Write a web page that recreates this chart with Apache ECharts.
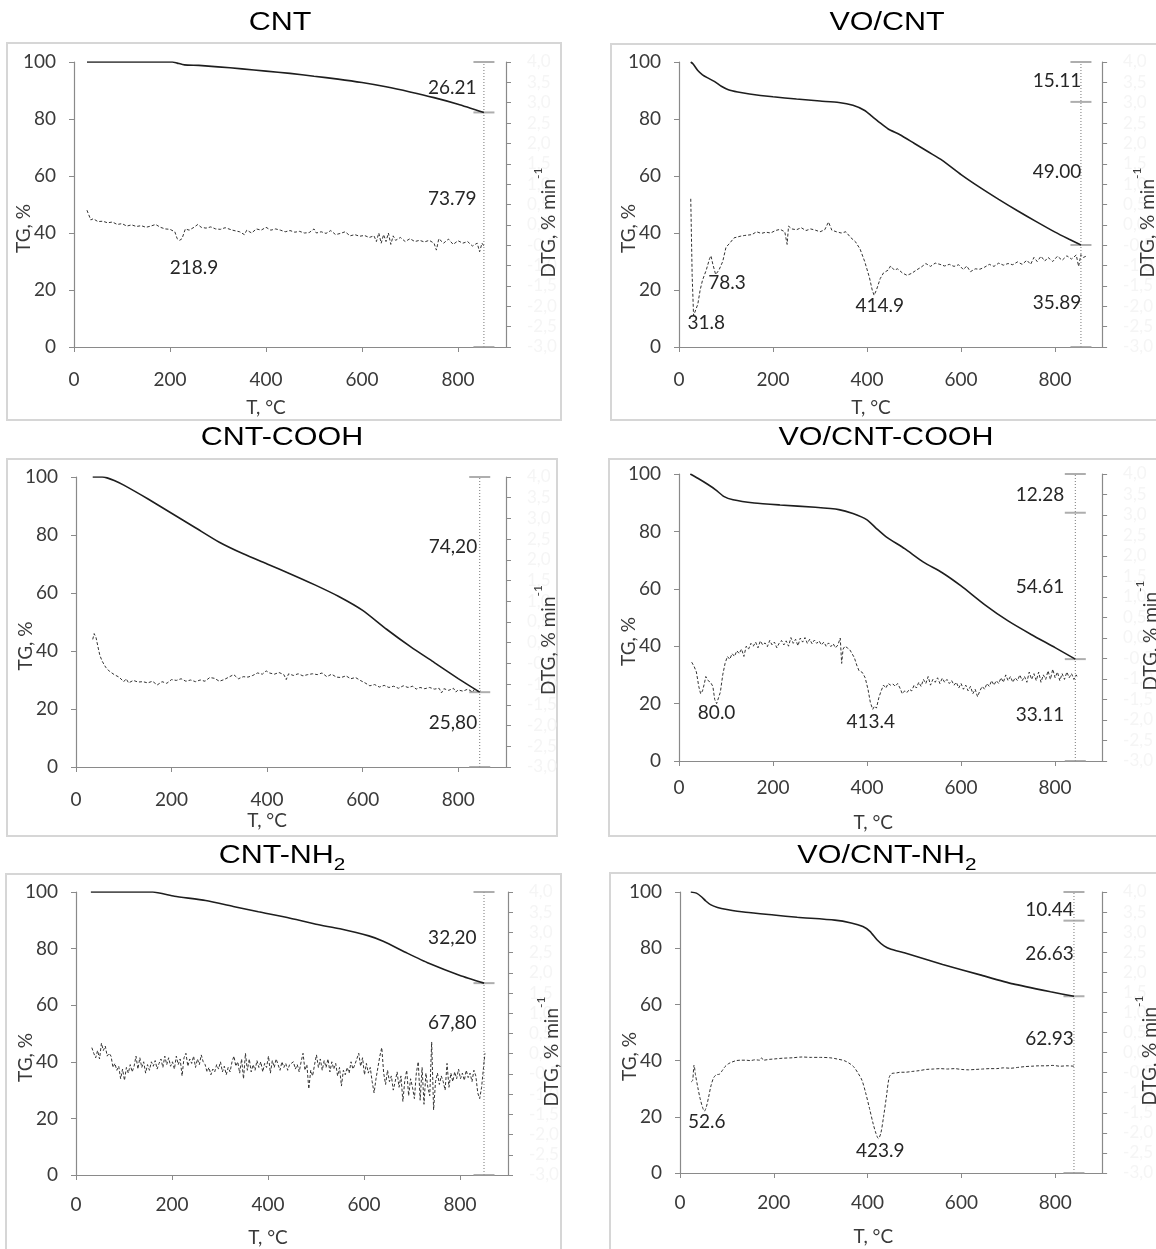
<!DOCTYPE html>
<html>
<head>
<meta charset="utf-8">
<script src="https://cdn.jsdelivr.net/npm/echarts@6/dist/echarts.min.js"></script>
<style>
html,body{margin:0;padding:0;background:#fff;}
#c{width:1156px;height:1249px;}
</style>
</head>
<body>
<div id="c"></div>
<script>
// ---------- Data (T in °C; TG in %; DTG in % min^-1) ----------
const T_TICKS = [0, 200, 400, 600, 800];

const tgCNT = [[27,100],[205,100],[215,99.6],[230,99],[260,98.8],[300,98.3],[350,97.6],[400,96.8],[450,96],[500,95],[550,94],[600,92.8],[650,91.3],[700,89.5],[750,87.5],[800,85.2],[854,82.3]];
const dtgCNT = [[27,0.36],[31,0.33],[35,0.12],[40,0.15],[50,0.08],[60,0.09],[70,0.05],[80,0.07],[90,0.01],[100,0.03],[110,-0.03],[120,0.00],[130,-0.04],[140,-0.02],[150,-0.06],[160,-0.03],[170,0.01],[180,-0.06],[190,-0.10],[200,-0.11],[210,-0.17],[215,-0.34],[220,-0.38],[225,-0.34],[232,-0.10],[240,-0.13],[250,-0.06],[258,0.01],[265,-0.06],[275,-0.08],[285,-0.05],[295,-0.10],[305,-0.11],[315,-0.07],[330,-0.13],[345,-0.17],[355,-0.24],[360,-0.13],[370,-0.20],[380,-0.10],[390,-0.13],[400,-0.06],[410,-0.13],[420,-0.10],[430,-0.13],[440,-0.17],[450,-0.14],[460,-0.18],[470,-0.16],[480,-0.20],[490,-0.19],[500,-0.10],[505,-0.20],[515,-0.17],[525,-0.21],[535,-0.14],[545,-0.24],[555,-0.21],[565,-0.17],[575,-0.27],[585,-0.24],[595,-0.28],[605,-0.26],[615,-0.31],[625,-0.27],[630,-0.41],[635,-0.20],[640,-0.45],[645,-0.24],[650,-0.41],[655,-0.20],[660,-0.48],[665,-0.27],[670,-0.38],[680,-0.31],[690,-0.41],[700,-0.34],[710,-0.41],[720,-0.38],[730,-0.42],[740,-0.38],[750,-0.45],[755,-0.62],[760,-0.34],[770,-0.45],[780,-0.35],[790,-0.48],[800,-0.39],[810,-0.45],[820,-0.41],[830,-0.52],[840,-0.45],[845,-0.66],[850,-0.45],[854,-0.52]];
const capsCNT = [100, 82.3, 0];
const notesCNT = [[788,90.9,'26.21'],[788,51.9,'73.79'],[250,27.7,'218.9']];

const tgVOCNT = [[25,100],[30,99.3],[40,97],[50,95.5],[60,94.5],[75,93.2],[90,91.5],[105,90.3],[125,89.5],[150,88.8],[200,87.8],[250,87],[300,86.3],[340,85.8],[370,84.8],[395,83],[410,81],[425,79],[445,76.5],[470,74.5],[500,71.5],[530,68.5],[560,65.5],[600,60.5],[640,56],[680,51.8],[720,47.8],[760,44],[800,40.3],[830,37.8],[855,35.8]];
const dtgVOCNT = [[25,0.64],[28,-1.25],[31,-2.23],[35,-2.20],[40,-1.95],[45,-1.60],[50,-1.36],[58,-1.11],[65,-0.83],[68,-0.76],[72,-0.97],[78,-1.22],[85,-1.11],[93,-0.90],[100,-0.55],[108,-0.45],[117,-0.32],[130,-0.28],[140,-0.26],[155,-0.24],[165,-0.17],[175,-0.21],[185,-0.18],[195,-0.20],[205,-0.14],[215,-0.11],[225,-0.17],[230,-0.48],[233,-0.03],[240,-0.10],[250,-0.12],[260,-0.07],[270,-0.14],[280,-0.10],[290,-0.13],[300,-0.17],[310,-0.12],[318,0.07],[325,-0.13],[335,-0.17],[345,-0.20],[355,-0.17],[365,-0.31],[375,-0.41],[385,-0.59],[395,-0.90],[405,-1.29],[411,-1.60],[415,-1.73],[420,-1.60],[428,-1.32],[435,-1.18],[445,-1.11],[450,-1.01],[458,-1.11],[465,-1.08],[475,-1.18],[485,-1.24],[495,-1.19],[505,-1.11],[515,-1.04],[525,-0.95],[535,-1.02],[545,-0.94],[555,-0.97],[565,-1.01],[575,-0.97],[585,-1.02],[595,-0.98],[605,-1.10],[612,-1.01],[620,-1.15],[630,-1.08],[640,-1.09],[650,-1.04],[660,-0.97],[670,-1.02],[680,-0.94],[690,-0.99],[700,-0.95],[710,-0.98],[720,-0.91],[730,-0.97],[740,-0.87],[748,-0.97],[755,-0.80],[762,-0.90],[770,-0.77],[778,-0.89],[785,-0.80],[795,-0.90],[805,-0.77],[815,-0.87],[825,-0.76],[835,-0.84],[845,-0.74],[850,-1.02],[855,-0.73],[860,-0.80],[866,-0.77]];
const capsVOCNT = [100, 86, 35.8, 0];
const notesVOCNT = [[804,93.5,'15.11'],[804,61.4,'49.00'],[804,15.4,'35.89'],[58,8.4,'31.8'],[102,22.5,'78.3'],[427,14.4,'414.9']];

const tgCOOH = [[35,100],[55,100],[65,99.7],[80,98.8],[100,97.2],[150,92.5],[200,87.5],[250,82.5],[300,77.5],[350,73.5],[400,70],[450,66.5],[500,62.8],[550,58.8],[600,54],[650,47.5],[700,41.5],[750,36],[800,30.5],[845,25.8]];
const dtgCOOH = [[35,0.08],[38,0.22],[42,0.12],[46,-0.10],[50,-0.31],[55,-0.45],[62,-0.59],[70,-0.69],[80,-0.77],[90,-0.83],[100,-0.94],[105,-0.87],[110,-0.97],[120,-0.91],[130,-0.95],[140,-0.94],[150,-0.97],[160,-0.93],[170,-1.02],[180,-0.94],[190,-0.98],[200,-0.89],[210,-0.91],[220,-0.87],[230,-0.93],[240,-0.90],[250,-0.94],[260,-0.90],[270,-0.93],[280,-0.84],[290,-0.86],[300,-0.93],[310,-0.89],[320,-0.83],[330,-0.77],[340,-0.87],[350,-0.82],[360,-0.83],[370,-0.79],[380,-0.73],[390,-0.76],[398,-0.68],[405,-0.73],[415,-0.76],[425,-0.72],[435,-0.77],[440,-0.89],[445,-0.75],[455,-0.79],[465,-0.75],[475,-0.80],[485,-0.77],[495,-0.75],[505,-0.77],[515,-0.73],[525,-0.82],[535,-0.76],[545,-0.83],[555,-0.84],[565,-0.80],[575,-0.87],[585,-0.84],[595,-0.91],[605,-0.97],[615,-1.04],[625,-1.01],[635,-1.07],[645,-1.03],[655,-1.08],[665,-1.05],[675,-1.10],[685,-1.04],[695,-1.08],[705,-1.05],[712,-1.12],[720,-1.08],[730,-1.11],[740,-1.08],[750,-1.12],[760,-1.10],[765,-1.21],[770,-1.11],[780,-1.15],[790,-1.10],[795,-1.19],[800,-1.14],[810,-1.17],[820,-1.12],[830,-1.19],[835,-1.11],[840,-1.18],[847,-1.16]];
const capsCOOH = [100, 25.8, 0];
const notesCOOH = [[789,75.9,'74,20'],[789,15.2,'25,80']];

const tgVOCOOH = [[24,100],[40,98.5],[60,96.5],[78,94.5],[95,92.2],[115,91],[160,89.9],[215,89.2],[290,88.4],[340,87.6],[370,86.2],[400,84],[420,81],[440,78.2],[480,74],[520,69.3],[560,65.6],[600,61],[650,54.5],[700,48.8],[750,44],[800,39.5],[843,35.5]];
const dtgVOCOOH = [[27,-0.59],[32,-0.69],[37,-0.83],[42,-1.18],[46,-1.36],[50,-1.29],[54,-1.11],[57,-0.94],[62,-1.04],[67,-1.08],[72,-1.18],[76,-1.50],[80,-1.60],[84,-1.46],[88,-1.32],[93,-0.90],[98,-0.62],[103,-0.45],[108,-0.52],[113,-0.38],[118,-0.45],[123,-0.31],[128,-0.38],[133,-0.27],[138,-0.45],[143,-0.20],[148,-0.27],[153,-0.13],[158,-0.20],[163,-0.10],[168,-0.24],[173,-0.07],[178,-0.17],[183,-0.12],[188,-0.21],[193,-0.06],[198,-0.17],[203,-0.10],[208,-0.24],[213,-0.13],[218,-0.06],[223,-0.17],[228,-0.07],[233,-0.20],[238,0.01],[243,-0.13],[248,-0.03],[253,-0.19],[258,0.00],[263,-0.10],[268,0.01],[273,-0.13],[278,-0.03],[283,-0.14],[288,-0.05],[293,-0.13],[298,-0.07],[303,-0.17],[308,-0.10],[313,-0.20],[318,-0.12],[323,-0.21],[328,-0.14],[333,-0.24],[338,-0.17],[343,0.00],[346,-0.62],[349,-0.27],[353,-0.20],[358,-0.24],[363,-0.28],[368,-0.38],[373,-0.48],[378,-0.66],[383,-0.80],[390,-0.84],[396,-0.97],[402,-1.25],[407,-1.57],[412,-1.74],[416,-1.66],[420,-1.71],[425,-1.46],[430,-1.29],[435,-1.15],[440,-1.22],[445,-1.11],[450,-1.15],[455,-1.12],[460,-1.18],[465,-1.11],[470,-1.22],[475,-1.36],[480,-1.29],[485,-1.33],[490,-1.25],[495,-1.29],[500,-1.15],[505,-1.22],[510,-1.08],[515,-1.18],[520,-1.01],[525,-1.11],[530,-0.94],[535,-1.15],[540,-1.01],[545,-1.08],[550,-0.97],[555,-1.11],[560,-0.98],[565,-1.08],[570,-1.01],[575,-1.11],[580,-1.04],[585,-1.15],[590,-1.08],[595,-1.22],[600,-1.11],[605,-1.25],[610,-1.15],[615,-1.29],[620,-1.18],[625,-1.36],[630,-1.25],[635,-1.43],[640,-1.29],[645,-1.18],[650,-1.25],[655,-1.11],[660,-1.18],[665,-1.04],[670,-1.15],[675,-1.04],[680,-1.11],[685,-0.97],[690,-1.08],[695,-0.90],[700,-1.04],[705,-0.94],[710,-1.08],[715,-0.97],[720,-1.04],[725,-0.90],[730,-1.04],[735,-0.94],[740,-1.08],[745,-0.83],[750,-1.01],[755,-0.87],[760,-1.04],[765,-0.83],[770,-1.08],[775,-0.90],[780,-1.01],[785,-0.80],[790,-1.01],[795,-0.76],[800,-0.97],[805,-0.83],[810,-1.04],[815,-0.87],[820,-1.01],[825,-0.83],[830,-0.97],[835,-0.87],[840,-1.01],[845,-0.90],[848,-0.97]];
const capsVOCOOH = [100, 86.5, 35.5, 0];
const notesVOCOOH = [[768,92.7,'12.28'],[768,60.6,'54.61'],[768,16,'33.11'],[80,16.7,'80.0'],[408,13.6,'413.4']];

const tgNH2 = [[31,100],[160,100],[205,98.5],[270,97],[330,94.8],[380,93],[440,91],[500,88.6],[550,87],[610,84.5],[640,82.6],[690,78.4],[735,74.8],[800,70.5],[850,67.8]];
const dtgNH2 = [[33,0.15],[37,0.01],[41,-0.10],[45,0.08],[49,-0.13],[53,0.26],[57,0.08],[61,0.19],[65,-0.06],[69,0.01],[73,-0.06],[77,-0.34],[81,-0.24],[85,-0.41],[89,-0.31],[93,-0.62],[97,-0.38],[101,-0.66],[105,-0.34],[109,-0.48],[113,-0.27],[117,-0.45],[121,-0.31],[125,-0.06],[129,-0.38],[133,-0.10],[137,-0.34],[141,-0.20],[145,-0.48],[149,-0.27],[153,-0.41],[157,-0.20],[161,-0.31],[165,-0.17],[169,-0.38],[173,-0.24],[177,-0.13],[181,-0.34],[185,-0.06],[189,-0.27],[193,-0.10],[197,-0.31],[201,-0.20],[205,-0.38],[209,-0.06],[213,-0.27],[217,-0.13],[221,-0.55],[225,-0.10],[229,0.01],[233,-0.31],[237,-0.13],[241,-0.24],[245,-0.06],[249,-0.34],[253,-0.13],[257,-0.27],[261,-0.03],[265,-0.20],[269,-0.27],[273,-0.45],[277,-0.34],[281,-0.52],[285,-0.38],[289,-0.45],[293,-0.27],[297,-0.38],[301,-0.20],[305,-0.45],[309,-0.31],[313,-0.52],[317,-0.34],[321,-0.45],[325,-0.20],[329,-0.06],[333,-0.31],[337,-0.20],[341,-0.48],[345,-0.13],[349,-0.62],[353,0.01],[357,-0.41],[361,-0.13],[365,-0.45],[369,-0.27],[373,-0.41],[377,-0.17],[381,-0.34],[385,-0.20],[389,-0.45],[393,-0.24],[397,-0.34],[401,-0.06],[405,-0.48],[409,-0.17],[413,-0.34],[417,-0.13],[421,-0.27],[425,-0.41],[429,-0.20],[433,-0.34],[437,-0.24],[441,-0.41],[445,-0.27],[449,-0.31],[453,-0.20],[457,-0.38],[461,-0.27],[465,-0.45],[469,-0.20],[473,0.01],[477,-0.41],[481,-0.27],[485,-0.87],[489,-0.41],[493,-0.55],[497,-0.27],[501,-0.03],[505,-0.34],[509,-0.13],[513,-0.41],[517,-0.17],[521,-0.34],[525,-0.13],[529,-0.45],[533,-0.20],[537,-0.38],[541,-0.24],[545,-0.55],[549,-0.34],[553,-0.80],[557,-0.41],[561,-0.52],[565,-0.34],[569,-0.48],[573,-0.20],[577,-0.38],[581,-0.27],[585,-0.13],[589,0.01],[593,-0.31],[597,-0.10],[601,-0.52],[605,-0.24],[609,-0.48],[613,-0.34],[617,-0.69],[621,-0.97],[625,-0.62],[629,-0.34],[633,-0.06],[637,0.15],[641,-0.48],[645,-0.76],[649,-0.41],[653,-0.69],[657,-0.55],[661,-0.90],[665,-0.69],[669,-0.45],[673,-0.83],[677,-0.55],[681,-1.18],[685,-0.66],[689,-0.41],[693,-1.04],[697,-0.62],[701,-0.83],[705,-1.11],[709,-0.48],[713,-0.20],[717,-1.15],[721,-0.34],[725,-1.25],[729,-0.48],[733,-0.83],[737,-1.04],[741,0.29],[745,-1.39],[749,-0.69],[753,-0.48],[757,-0.76],[761,-0.55],[765,-0.69],[769,-0.90],[773,-0.24],[777,-0.83],[781,-0.48],[785,-0.69],[789,-0.45],[793,-0.62],[797,-0.38],[801,-0.62],[805,-0.48],[809,-0.66],[813,-0.41],[817,-0.59],[821,-0.48],[825,-0.69],[829,-0.41],[833,-0.55],[837,-0.97],[841,-1.11],[845,-0.83],[849,-0.34],[852,0.01]];
const capsNH2 = [100, 67.8, 0];
const notesNH2 = [[784,83.8,'32,20'],[784,53.9,'67,80']];

const tgVONH2 = [[23,100],[35,99.6],[45,98.4],[55,96.8],[65,95.5],[80,94.5],[100,93.8],[140,92.8],[200,91.8],[250,91],[330,90],[365,89],[390,87.7],[405,86],[420,83],[435,80.8],[450,79.6],[480,78.3],[560,74.2],[640,70.5],[710,67.3],[790,64.5],[840,62.9]];
const dtgVONH2 = [[24,-0.73],[27,-0.69],[30,-0.31],[33,-0.55],[38,-0.87],[43,-1.15],[48,-1.36],[52,-1.46],[56,-1.36],[61,-1.11],[66,-0.83],[72,-0.62],[78,-0.55],[84,-0.54],[90,-0.45],[96,-0.35],[103,-0.28],[110,-0.24],[120,-0.20],[130,-0.19],[140,-0.19],[150,-0.20],[160,-0.18],[170,-0.19],[174,-0.13],[178,-0.19],[190,-0.17],[200,-0.16],[220,-0.14],[240,-0.13],[260,-0.11],[280,-0.12],[300,-0.12],[320,-0.13],[335,-0.16],[350,-0.20],[360,-0.26],[370,-0.35],[380,-0.52],[388,-0.69],[396,-1.01],[404,-1.39],[412,-1.78],[418,-2.02],[423,-2.14],[428,-2.02],[434,-1.60],[440,-1.11],[446,-0.62],[452,-0.52],[460,-0.51],[470,-0.49],[480,-0.49],[495,-0.47],[510,-0.45],[525,-0.42],[540,-0.41],[555,-0.40],[570,-0.41],[585,-0.40],[600,-0.42],[615,-0.43],[630,-0.42],[645,-0.41],[660,-0.40],[675,-0.40],[690,-0.38],[705,-0.39],[720,-0.37],[735,-0.35],[750,-0.34],[765,-0.33],[780,-0.33],[795,-0.32],[810,-0.34],[825,-0.33],[840,-0.34]];
const capsVONH2 = [100, 89.8, 62.9, 0];
const notesVONH2 = [[788,93.6,'10.44'],[788,77.9,'26.63'],[788,47.6,'62.93'],[57,18.1,'52.6'],[427,7.8,'423.9']];

// ---------- Layout ----------
const panels = [
  {title:'CNT', sub:'', tg:tgCNT, dtg:dtgCNT, vT:854, caps:capsCNT, notes:notesCNT, smooth:false, dtgGap:39,
   g:{left:74, top:62, width:432, height:285}, box:[7,43,554,377], tpos:[280,26], xNameY:408, xMargin:23},
  {title:'VO/CNT', sub:'', tg:tgVOCNT, dtg:dtgVOCNT, vT:855, caps:capsVOCNT, notes:notesVOCNT, smooth:false, dtgGap:33,
   g:{left:679, top:62, width:432, height:285}, box:[611,44,560,376], tpos:[887,26], xNameY:408, xMargin:23},
  {title:'CNT-COOH', sub:'', tg:tgCOOH, dtg:dtgCOOH, vT:845, caps:capsCOOH, notes:notesCOOH, smooth:false, dtgGap:39,
   g:{left:76, top:477, width:430, height:290}, box:[7,459,550,377], tpos:[282,441], xNameY:821, xMargin:23},
  {title:'VO/CNT-COOH', sub:'', tg:tgVOCOOH, dtg:dtgVOCOOH, vT:843, caps:capsVOCOOH, notes:notesVOCOOH, smooth:false, dtgGap:31,
   g:{left:679, top:474, width:437, height:287}, box:[609,459,560,377], tpos:[886,441], xNameY:823, xMargin:17},
  {title:'CNT-NH', sub:'2', tg:tgNH2, dtg:dtgNH2, vT:850, caps:capsNH2, notes:notesNH2, smooth:false, dtgGap:40,
   g:{left:76, top:892, width:432, height:283}, box:[6,874,555,390], tpos:[282,859], xNameY:1238, xMargin:20},
  {title:'VO/CNT-NH', sub:'2', tg:tgVONH2, dtg:dtgVONH2, vT:840, caps:capsVONH2, notes:notesVONH2, smooth:true, dtgGap:31,
   g:{left:680, top:892, width:435, height:281}, box:[610,873,560,390], tpos:[887,859], xNameY:1237, xMargin:20}
];

const FONT = 'Lato, "Open Sans", sans-serif';
const AX = '#8a8a8a';
const TXT = '#3a3a3a';

const grids = [], xAxes = [], yAxes = [], series = [], graphics = [];

panels.forEach((p, i) => {
  // frame
  graphics.push({type:'rect', silent:true, z:-1,
    shape:{x:p.box[0], y:p.box[1], width:p.box[2], height:p.box[3]},
    style:{fill:'none', stroke:'#d6d6d6', lineWidth:2}});
  // title
  const tText = p.sub ? '{n|' + p.title + '}{s|' + p.sub + '}' : '{n|' + p.title + '}';
  graphics.push({type:'text', x:p.tpos[0], y:p.tpos[1], scaleX:1.22, silent:true,
    style:{text:tText, align:'center', verticalAlign:'middle',
      rich:{n:{fontSize:25, fontFamily:'"Liberation Sans", Arial, sans-serif', fill:'#000', lineHeight:30, verticalAlign:'top'},
            s:{fontSize:17, fontFamily:'"Liberation Sans", Arial, sans-serif', fill:'#000', lineHeight:10, verticalAlign:'bottom'}}}});
  // axis names
  const g = p.g;
  graphics.push({type:'text', x:g.left - 50, y:g.top + g.height/2 + 24, rotation:Math.PI/2, silent:true,
    style:{text:'TG, %', align:'center', verticalAlign:'middle', fontSize:19, fontFamily:FONT, fill:TXT}});
  graphics.push({type:'text', x:g.left + g.width + p.dtgGap, y:g.top + g.height/2 + 18, rotation:Math.PI/2, silent:true, z:10,
    style:{text:'{a|DTG, % min}{b|-1}', align:'center', verticalAlign:'middle',
      rich:{a:{fontSize:19, fontFamily:FONT, fill:TXT, lineHeight:26, verticalAlign:'bottom'},
            b:{fontSize:12, fontFamily:FONT, fill:TXT, lineHeight:9, verticalAlign:'top'}}}});
  graphics.push({type:'text', x:g.left + g.width*400/900, y:p.xNameY, silent:true,
    style:{text:'T, °C', align:'center', verticalAlign:'middle', fontSize:19, fontFamily:FONT, fill:TXT}});

  grids.push({left:g.left, top:g.top, width:g.width, height:g.height, containLabel:false});

  xAxes.push({gridIndex:i, type:'value', min:0, max:900, interval:200,
    axisLine:{onZero:false, lineStyle:{color:AX, width:1.2}},
    axisTick:{show:true, length:5, lineStyle:{color:AX}, customValues:T_TICKS},
    axisLabel:{customValues:T_TICKS, margin:p.xMargin, fontSize:19, fontFamily:FONT, color:TXT},
    splitLine:{show:false}});
  yAxes.push({gridIndex:i, type:'value', position:'left', min:0, max:100, interval:20,
    axisLine:{show:true, onZero:false, lineStyle:{color:AX, width:1.2}},
    axisTick:{show:true, length:5, lineStyle:{color:AX}},
    axisLabel:{margin:18, fontSize:19, fontFamily:FONT, color:TXT},
    splitLine:{show:false}});
  yAxes.push({gridIndex:i, type:'value', position:'right', min:-3, max:4, interval:0.5,
    axisLine:{show:true, onZero:false, lineStyle:{color:AX, width:1.2}},
    axisTick:{show:true, length:5, lineStyle:{color:AX}},
    axisLabel:{margin:21, fontSize:17, fontFamily:FONT, color:'#f5f5f5',
      formatter:v => v.toFixed(1).replace('.', ',')},
    splitLine:{show:false}});

  // TG
  series.push({type:'line', xAxisIndex:i, yAxisIndex:2*i, data:p.tg, showSymbol:false, silent:true,
    smooth:0.2, lineStyle:{color:'#1e1e1e', width:1.6}, z:3});
  // DTG
  series.push({type:'line', xAxisIndex:i, yAxisIndex:2*i+1, data:p.dtg, showSymbol:false, silent:true,
    smooth:p.smooth ? 0.3 : false, lineStyle:{color:'#333', width:1, type:[3,2]}, z:3});
  // bracket: dotted vertical line
  series.push({type:'line', xAxisIndex:i, yAxisIndex:2*i, data:[[p.vT,0],[p.vT,100]], showSymbol:false, silent:true,
    lineStyle:{color:'#777', width:1, type:[1,2]}, z:2});
  // bracket caps
  series.push({type:'scatter', xAxisIndex:i, yAxisIndex:2*i, data:p.caps.map(c => [p.vT, c]), silent:true,
    symbol:'rect', symbolSize:[21,2], itemStyle:{color:'#9a9a9a'}, z:2});
  // annotations
  series.push({type:'scatter', xAxisIndex:i, yAxisIndex:2*i, data:p.notes, silent:true,
    symbolSize:1, itemStyle:{color:'#ffffff', opacity:1}, z:5,
    label:{show:true, position:'inside', formatter:q => q.data[2], fontSize:19, fontFamily:FONT,
      color:'#262626', opacity:1, textBorderWidth:0, textShadowBlur:0}});
});

const chart = echarts.init(document.getElementById('c'), null, {renderer:'canvas'});
chart.setOption({
  animation:false,
  backgroundColor:'#fff',
  grid:grids, xAxis:xAxes, yAxis:yAxes, series:series, graphic:graphics
});
</script>
</body>
</html>
